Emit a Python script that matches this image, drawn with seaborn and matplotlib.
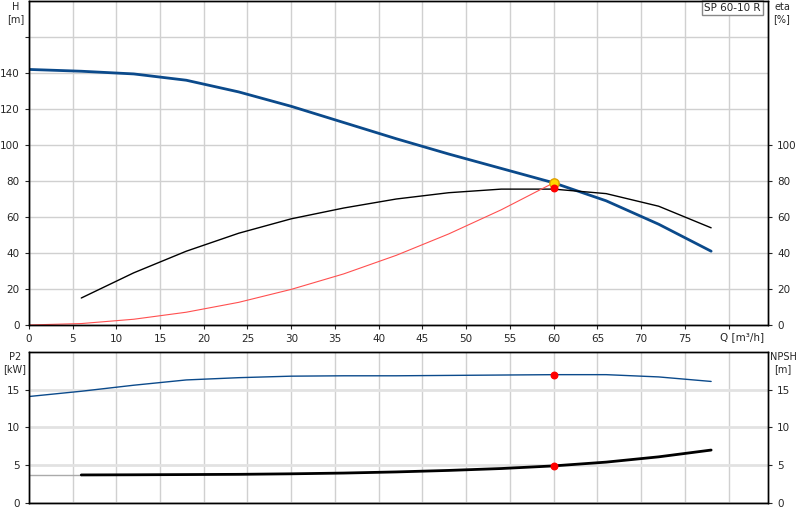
import matplotlib
matplotlib.use("Agg")
import matplotlib.pyplot as plt
import seaborn as sns

# top chart data
q = [0, 6, 12, 18, 24, 30, 36, 42, 48, 54, 60, 66, 72, 78]
head = [142, 141, 139.5, 136, 129.5, 121.5, 112.5, 103.5, 95, 87, 79, 69, 56, 41]
q_eta = [6, 12, 18, 24, 30, 36, 42, 48, 54, 60, 66, 72, 78]
eta = [15, 29, 41, 51, 59, 65, 70, 73.5, 75.5, 75.5, 73, 66, 54]
q_sys = [0, 6, 12, 18, 24, 30, 36, 42, 48, 54, 60]
sys_h = [0, 0.8, 3.2, 7.1, 12.6, 19.8, 28.4, 38.7, 50.6, 64, 79]

# bottom chart data
npsh = [14.1, 14.8, 15.6, 16.3, 16.6, 16.8, 16.85, 16.85, 16.9, 16.95, 17, 17, 16.7, 16.1]
q_p2 = [6, 12, 18, 24, 30, 36, 42, 48, 54, 60, 66, 72, 78]
p2 = [3.7, 3.72, 3.75, 3.78, 3.85, 3.95, 4.1, 4.3, 4.55, 4.9, 5.4, 6.1, 7.0]
q_p2_ext = [0, 6]
p2_ext = [3.7, 3.7]

sns.set_style("white")
plt.rcParams['font.family'] = ['DejaVu Sans']
fs = 7.5
blue = '#0b4a8b'

fig = plt.figure(figsize=(8, 5.2), dpi=100)
ax = fig.add_axes([0.036, 0.375, 0.924, 0.623])
ax2 = fig.add_axes([0.036, 0.033, 0.924, 0.29])

sns.lineplot(x=q, y=head, ax=ax, color=blue, lw=2)
sns.lineplot(x=q_eta, y=eta, ax=ax, color='black', lw=1)
sns.lineplot(x=q_sys, y=sys_h, ax=ax, color='#ff5050', lw=0.8)
ax.scatter([60], [79], s=45, color='#ffd700', edgecolor='#e0a000', zorder=5)
ax.scatter([60], [76], s=22, color='red', zorder=6)
ax.set_xlim(0, 84.5)
ax.set_ylim(0, 180)
ax.set_xticks(range(0, 85, 5))
ax.set_xticklabels([str(v) for v in range(0, 80, 5)] + [''])
ax.set_yticks(range(0, 180, 20))
ax.set_yticklabels([str(v) for v in range(0, 150, 20)] + [''])
ax.grid(True, color='#d0d0d0', lw=1)
ax.tick_params(labelsize=fs, length=3, direction='out', left=True, bottom=True)
axr = ax.twinx()
axr.set_ylim(0, 180)
axr.set_yticks(range(0, 101, 20))
axr.tick_params(labelsize=fs, length=3, right=True)
fig.text(16 / 800, 1 - 2 / 520, 'H\n[m]', ha='center', va='top', fontsize=7)
fig.text(782 / 800, 1 - 2 / 520, 'eta\n[%]', ha='center', va='top', fontsize=7)
ax.text(0.99, 0.995, 'SP 60-10 R', transform=ax.transAxes, ha='right', va='top', fontsize=fs,
        bbox=dict(facecolor='white', edgecolor='#888888', boxstyle='square,pad=0.25'))
ax.text(81.5, -4, 'Q [m³/h]', ha='center', va='top', fontsize=fs)

sns.lineplot(x=q, y=npsh, ax=ax2, color=blue, lw=1)
sns.lineplot(x=q_p2_ext, y=p2_ext, ax=ax2, color='#aaaaaa', lw=1)
sns.lineplot(x=q_p2, y=p2, ax=ax2, color='black', lw=2)
ax2.scatter([60, 60], [17, 4.9], s=22, color='red', zorder=5)
ax2.set_xlim(0, 84.5)
ax2.set_ylim(0, 20)
ax2.set_xticks(range(0, 85, 5))
ax2.set_xticklabels([])
ax2.set_yticks([0, 5, 10, 15])
ax2.grid(True, axis='x', color='#d0d0d0', lw=1)
ax2.grid(True, axis='y', color='#e2e2e2', lw=2)
ax2.tick_params(labelsize=fs, length=3, left=True, bottom=False)
ax2r = ax2.twinx()
ax2r.set_ylim(0, 20)
ax2r.set_yticks([0, 5, 10, 15])
ax2r.tick_params(labelsize=fs, length=3, right=True)
fig.text(15 / 800, 1 - 352 / 520, 'P2\n[kW]', ha='center', va='top', fontsize=7)
fig.text(783 / 800, 1 - 352 / 520, 'NPSH\n[m]', ha='center', va='top', fontsize=7)

for a in (ax, axr, ax2, ax2r):
    for s in a.spines.values():
        s.set_color('black')
        s.set_linewidth(1)

fig.savefig('out.png', dpi=100)
